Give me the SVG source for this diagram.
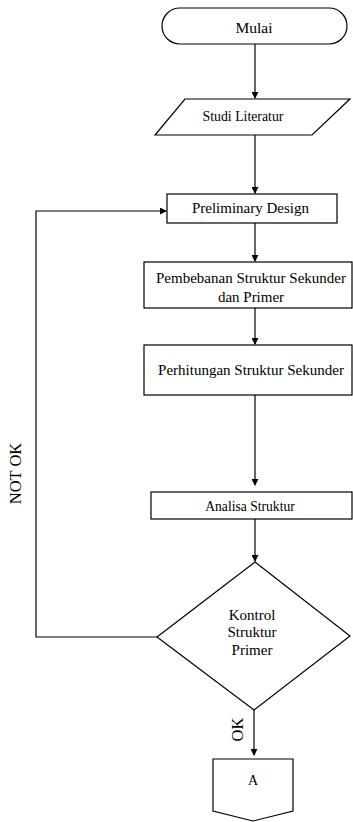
<svg xmlns="http://www.w3.org/2000/svg" width="353" height="822" viewBox="0 0 353 822">
<defs>
<style>
.s{fill:#fff;stroke:#000;stroke-width:1.2}
.c{fill:none;stroke:#000;stroke-width:1.2}
text{font-family:'Liberation Serif','Times New Roman',serif;font-size:15px;fill:#000;text-anchor:middle}
</style>
<marker id="ah" viewBox="0 0 8 8" refX="7" refY="4" markerWidth="7" markerHeight="7" markerUnits="userSpaceOnUse" orient="auto">
<path d="M0,0 L8,4 L0,8 z" fill="#000"/>
</marker>
</defs>
<g id="connectors">
<line class="c" x1="255" y1="44" x2="255" y2="98" marker-end="url(#ah)"/>
<line class="c" x1="255" y1="135" x2="255" y2="193" marker-end="url(#ah)"/>
<line class="c" x1="255" y1="223" x2="255" y2="261" marker-end="url(#ah)"/>
<line class="c" x1="255" y1="308" x2="255" y2="344" marker-end="url(#ah)"/>
<line class="c" x1="255" y1="388" x2="255" y2="485" marker-end="url(#ah)"/>
<line class="c" x1="255" y1="519" x2="255" y2="561" marker-end="url(#ah)"/>
<line class="c" x1="254" y1="710" x2="254" y2="755" marker-end="url(#ah)"/>
<polyline class="c" points="157,637 36,637 36,211 166,211" marker-end="url(#ah)"/>
<text font-family="Liberation Serif, serif" transform="translate(21,473.5) rotate(-90)" style="font-size:16.5px">NOT OK</text>
<text font-family="Liberation Serif, serif" transform="translate(243,729.5) rotate(-90)" style="font-size:16.5px">OK</text>
</g>
<g id="mulai">
<rect class="s" x="162" y="8" width="185" height="36" rx="18" ry="18"/>
<text font-family="Liberation Serif, serif" x="254" y="33" style="font-size:15.5px">Mulai</text>
</g>
<g id="studi">
<polygon class="s" points="185,99 350,99 312,135 155,135"/>
<text font-family="Liberation Serif, serif" x="243" y="121" style="font-size:13.8px">Studi Literatur</text>
</g>
<g id="preliminary">
<rect class="s" x="167" y="194" width="170" height="29"/>
<text font-family="Liberation Serif, serif" x="250.5" y="213">Preliminary Design</text>
</g>
<g id="pembebanan">
<rect class="s" x="144" y="262" width="208" height="46"/>
<text font-family="Liberation Serif, serif" x="251" y="283">Pembebanan Struktur Sekunder</text>
<text font-family="Liberation Serif, serif" x="251" y="302">dan Primer</text>
</g>
<g id="perhitungan">
<rect class="s" x="144" y="345" width="208" height="50"/>
<text font-family="Liberation Serif, serif" x="251" y="375">Perhitungan Struktur Sekunder</text>
</g>
<g id="analisa">
<rect class="s" x="151" y="492" width="201" height="27"/>
<text font-family="Liberation Serif, serif" x="250" y="511" style="font-size:13.6px">Analisa Struktur</text>
</g>
<g id="kontrol">
<polygon class="s" points="255,562 350,636 254,710 157,637"/>
<text font-family="Liberation Serif, serif" x="252" y="620">Kontrol</text>
<text font-family="Liberation Serif, serif" x="252" y="637">Struktur</text>
<text font-family="Liberation Serif, serif" x="252" y="655">Primer</text>
</g>
<g id="a">
<polygon class="s" points="213,759 293,759 293,811 253,821 213,811"/>
<text font-family="Liberation Serif, serif" x="253" y="785" style="font-size:14px">A</text>
</g>
</svg>
